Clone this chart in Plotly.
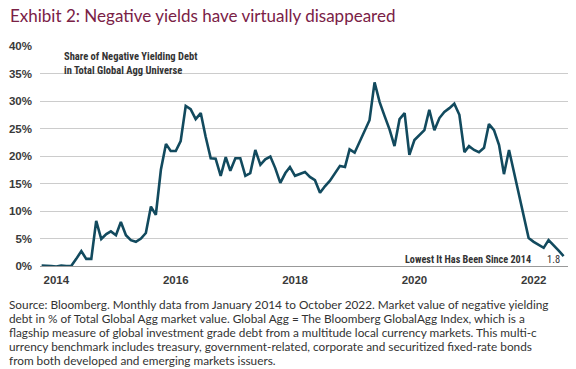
import plotly.graph_objects as go
import pandas as pd

# Data: share of negative yielding debt (%), monthly Jan 2014 - Oct 2022
dates = pd.date_range("2014-01-01", "2022-10-01", freq="MS")
share = [
    0.1, 0.1, 0.0, -0.1, 0.1, 0.0, 0.0, 1.3, 2.7, 1.3, 1.3, 8.2,
    4.9, 5.8, 6.3, 5.6, 8.0, 5.6, 4.7, 4.4, 5.0, 6.0, 10.8, 9.3,
    17.5, 22.2, 20.9, 20.9, 22.7, 29.1, 28.5, 26.7, 27.8, 23.5, 19.6, 19.5,
    16.4, 19.8, 17.3, 19.6, 19.6, 16.4, 16.9, 21.1, 18.4, 19.4, 19.9, 17.8,
    15.1, 16.9, 18.0, 16.4, 16.7, 17.1, 16.2, 15.6, 13.3, 14.5, 15.5, 16.9,
    18.2, 18.0, 21.2, 20.6, 22.5, 24.3, 26.5, 33.4, 29.8, 27.3, 24.8, 21.8,
    26.7, 27.8, 20.2, 22.9, 23.8, 24.7, 28.4, 24.7, 26.9, 28.0, 28.7, 29.5,
    27.5, 20.7, 21.8, 21.1, 20.7, 21.5, 25.8, 24.7, 22.0, 16.7, 21.1, 17.1,
    13.3, 9.3, 5.1, 4.4, 3.8, 3.3, 4.7, 3.8, 2.8, 1.8,
]
year_labels = ["2014", "2016", "2018", "2020", "2022"]
y_ticks = [0, 5, 10, 15, 20, 25, 30, 35, 40]

title_text = "Exhibit 2: Negative yields have virtually disappeared"
series_label = "Share of Negative Yielding Debt<br>in Total Global Agg Universe"
low_label = "Lowest It Has Been Since 2014"
last_label = "1.8"
footer_lines = [
    "Source: Bloomberg. Monthly data from January 2014 to October 2022. Market value of negative yielding",
    "debt in % of Total Global Agg market value. Global Agg = The Bloomberg GlobalAgg Index, which is a",
    "flagship measure of global investment grade debt from a multitude local currency markets. This multi-c",
    "urrency benchmark includes treasury, government-related, corporate and securitized fixed-rate bonds",
    "from both developed and emerging markets issuers.",
]

NARROW = "Liberation Sans Narrow, Roboto Condensed, Arial Narrow, Liberation Sans, sans-serif"
TICKFONT = "Liberation Sans, Arial, sans-serif"
BODY = "Lato, Liberation Sans, sans-serif"
LINE_COLOR = "#124a5e"

# plot area in pixels: x 40..568, y 46..266
def py(pix):
    return (266 - pix) / 220

def px(pix):
    return (pix - 40) / 528

fig = go.Figure()
fig.add_trace(go.Scatter(
    x=dates, y=share, mode="lines",
    line=dict(color=LINE_COLOR, width=2.6),
    cliponaxis=False, hoverinfo="skip", showlegend=False,
))

annotations = [
    dict(text=title_text, xref="paper", yref="paper",
         x=px(8), y=py(15), xanchor="left", yanchor="middle", showarrow=False,
         font=dict(family=BODY, size=17, color="#7a2146")),
    dict(text=series_label, xref="paper", yref="paper",
         x=px(62), y=py(48), xanchor="left", yanchor="top",
         align="left", showarrow=False,
         font=dict(family=NARROW, size=10.5, color="#333333", weight="bold")),
    dict(text=low_label, xref="paper", yref="paper",
         x=px(533), y=py(259), xanchor="right", yanchor="middle", showarrow=False,
         font=dict(family=NARROW, size=10.2, color="#333333", weight="bold")),
    dict(text=last_label, xref="paper", yref="paper",
         x=px(553), y=py(259), xanchor="center", yanchor="middle", showarrow=False,
         font=dict(family=NARROW, size=10.5, color="#333333")),
]
for i, line in enumerate(footer_lines):
    annotations.append(dict(
        text=line, xref="paper", yref="paper",
        x=px(7), y=py(304 + 14.2 * i), xanchor="left", yanchor="middle",
        showarrow=False,
        font=dict(family=BODY, size=11.8, color="#333333"),
    ))

fig.update_layout(
    width=576, height=369,
    margin=dict(l=40, r=8, t=46, b=103),
    paper_bgcolor="white", plot_bgcolor="white",
    xaxis=dict(
        range=["2013-12-22", "2022-10-28"],
        tickvals=[f"{y}-04-01" for y in year_labels],
        ticktext=year_labels,
        showgrid=False, zeroline=False, showline=False,
        ticks="", ticklen=0, ticklabelstandoff=5,
        tickfont=dict(family=TICKFONT, size=11.5, color="#3a3a3a", weight="bold"),
    ),
    yaxis=dict(
        range=[0, 40],
        tickvals=y_ticks,
        ticktext=[f"{v}%" for v in y_ticks],
        showgrid=True, gridcolor="#cccccc", gridwidth=1,
        zeroline=True, zerolinecolor="#999999", zerolinewidth=1.2,
        showline=False, ticks="",
        tickfont=dict(family=TICKFONT, size=11.5, color="#3a3a3a", weight="bold"),
        ticklabelstandoff=7,
    ),
    annotations=annotations,
)

fig.write_html(
    "out.html",
    config={"displayModeBar": False},
    post_script="document.body.style.margin='0px';document.body.style.overflow='hidden';",
)
